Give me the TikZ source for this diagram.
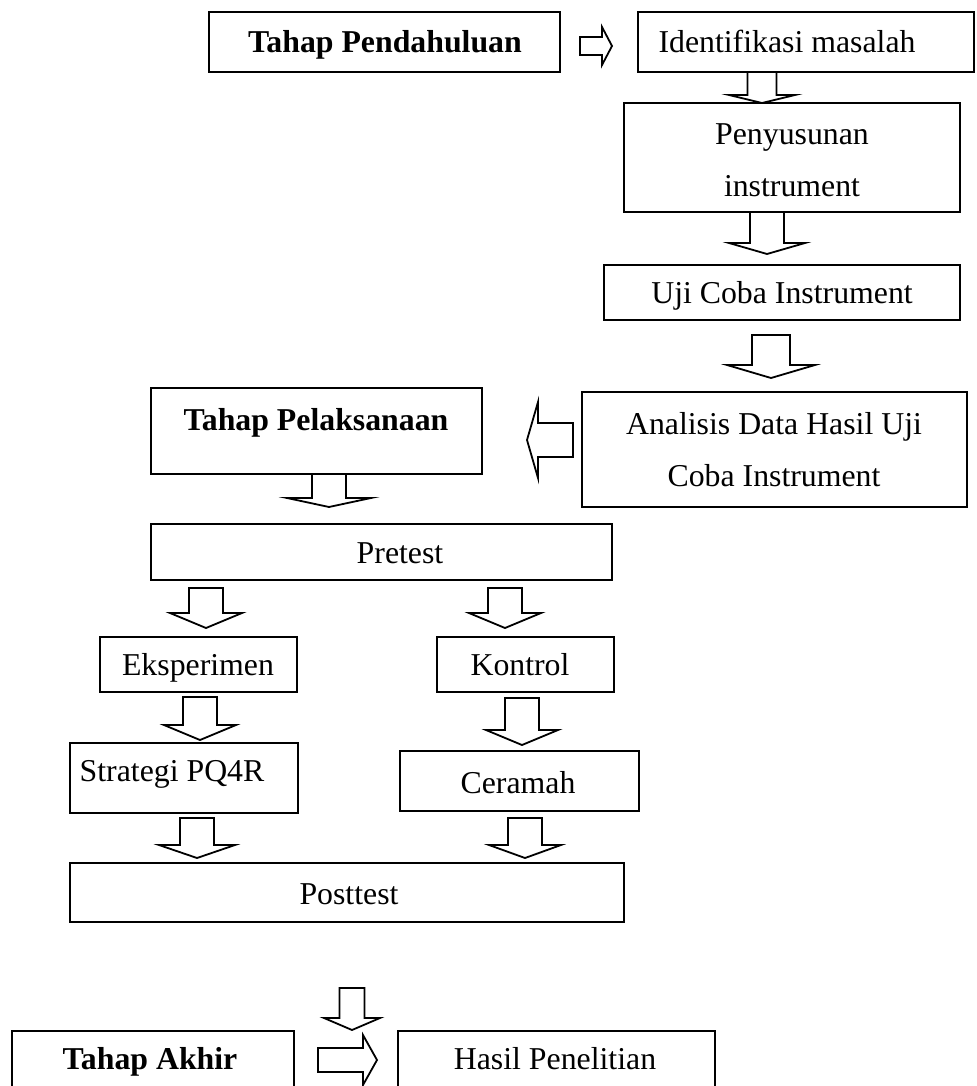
\documentclass[tikz,border=0pt]{standalone}
\usepackage{fontspec}
\setmainfont{Liberation Serif}
\newcommand\boxn[5]{\node[box, minimum width={(#4-#2)*0.5pt}, minimum height={(#5-#3)*0.5pt}] (#1) at ({(#2+#4)/2},{(#3+#5)/2}) {};}
\newcommand\darrow[6]{\draw[arr] ({#1-#5},#2) -- ({#1+#5},#2) -- ({#1+#5},#3) -- ({#1+#6},#3) -- (#1,#4) -- ({#1-#6},#3) -- ({#1-#5},#3) -- cycle;}
\newcommand\harrow[6]{\draw[arr] (#1,{#4-#5}) -- (#2,{#4-#5}) -- (#2,{#4-#6}) -- (#3,#4) -- (#2,{#4+#6}) -- (#2,{#4+#5}) -- (#1,{#4+#5}) -- cycle;}
\begin{document}
\begin{tikzpicture}[x=0.5pt,y=-0.5pt,
 box/.style={draw,line width=0.9pt,rectangle,inner sep=0pt},
 arr/.style={draw,line width=0.9pt,line join=miter,fill=white},
 lbl/.style={anchor=base,inner sep=0pt,font=\fontsize{15.9}{19}\selectfont},
 blbl/.style={anchor=base,inner sep=0pt,font=\fontsize{15.9}{19}\selectfont\bfseries}]
\clip (0,0) rectangle (977,1086);
% boxes
\boxn{pend}{209}{12}{560}{72}
\boxn{ident}{638}{12}{974}{72}
\boxn{peny}{624}{103}{960}{212}
\boxn{uji}{604}{265}{960}{320}
\boxn{anal}{582}{392}{967}{507}
\boxn{pel}{151}{388}{482}{474}
\boxn{pre}{151}{524}{612}{580}
\boxn{eks}{100}{637}{297}{692}
\boxn{kon}{437}{637}{614}{692}
\boxn{str}{70}{743}{298}{813}
\boxn{cer}{400}{751}{639}{811}
\boxn{post}{70}{863}{624}{922}
\boxn{akh}{12}{1031}{294}{1100}
\boxn{has}{398}{1031}{715}{1100}
% texts
\node[blbl] (tpend) at (385,53) {Tahap Pendahuluan};
\node[lbl] (tident) at (787,53) {Identifikasi masalah};
\node[lbl] (tpeny1) at (792,144) {Penyusunan};
\node[lbl] (tpeny2) at (792,196) {instrument};
\node[lbl] (tuji) at (782,303) {Uji Coba Instrument};
\node[lbl] (tanal1) at (774,434) {Analisis Data Hasil Uji};
\node[lbl] (tanal2) at (774,486) {Coba Instrument};
\node[blbl] (tpel) at (316,430) {Tahap Pelaksanaan};
\node[lbl] (tpre) at (400,563) {Pretest};
\node[lbl] (teks) at (198,675) {Eksperimen};
\node[lbl] (tkon) at (520,675) {Kontrol};
\node[lbl] (tstr) at (172,781) {Strategi PQ4R};
\node[lbl] (tcer) at (518,793) {Ceramah};
\node[lbl] (tpost) at (349,904) {Posttest};
\node[blbl] (takh) at (150,1069) {Tahap Akhir};
\node[lbl] (thas) at (555,1069) {Hasil Penelitian};
% block arrows
\harrow{580}{602}{612}{46}{9}{19}
\darrow{762}{72}{95}{103}{14.5}{33}
\darrow{767}{212}{243}{254}{17}{38}
\darrow{771}{335}{365}{378}{19}{44}
\harrow{573}{538}{527}{440}{17}{38}
\darrow{329}{474}{498}{507}{17}{42}
\darrow{206}{588}{613}{628}{17}{36}
\darrow{505}{588}{613}{628}{17}{36}
\darrow{200}{697}{725}{740}{17}{36}
\darrow{522}{698}{730}{745}{17}{36}
\darrow{197}{818}{845}{858}{17}{38}
\darrow{525}{818}{845}{858}{17}{36}
\darrow{352}{988}{1018}{1030}{12.5}{28}
\harrow{318}{363}{377}{1060}{12}{25}
\end{tikzpicture}
\end{document}
